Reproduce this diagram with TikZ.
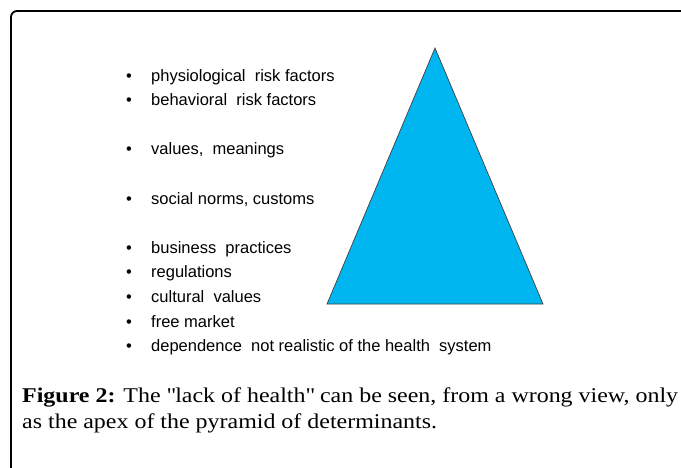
\documentclass[tikz,border=0pt]{standalone}
\usepackage{fontspec}
\setmainfont{Liberation Serif}[FakeStretch=1.14]
\newfontfamily\listfont{Liberation Sans}
\usepackage{tikz}
\usetikzlibrary{positioning,calc}
\definecolor{pyrblue}{RGB}{0,182,240}

\tikzset{
	item/.style={anchor=base west, inner sep=0pt, font=\listfont\fontsize{16.5}{19}\selectfont},
	pyramid/.style={fill=pyrblue, draw=black!75, line width=0.7pt, line join=miter},
	frame/.style={line width=1.8pt, rounded corners=6pt},
}

\begin{document}
\begin{tikzpicture}[x=1pt,y=-1pt]
		\useasboundingbox (0,0) rectangle (681,467);
		% box round the figure
		\draw[frame] (11,470) -- (11,11) -- (690,11);

		% the determinants, top to bottom
		\foreach \k/\txt in {
			0/{physiological\ \ risk factors},
			1/{behavioral\ \ risk factors},
			3/{values,\ \ meanings},
			5/{social norms,\ customs},
			7/{business\ \ practices},
			8/{regulations},
			9/{cultural\ \ values},
			10/{free market},
			11/{dependence\ \ not realistic of the health\ \ system}
		}{
			\node[item] (it\k) at (126,{81+24.6*\k}) {\makebox[25pt][l]{\textbullet}\txt};
		}

		% pyramid
		\coordinate (apex) at (435,48);
		\coordinate (bl) at (327,304);
		\coordinate (br) at (543,304);
		\filldraw[pyramid] (apex) -- (br) -- (bl) -- cycle;

		% caption (base anchor sits on the last line)
		\node[anchor=base west, inner sep=0pt, align=left,
			font=\fontsize{21}{25.5}\selectfont] (cap) at (22,428)
			{\textbf{Figure 2:} The \textquotedbl lack of health\textquotedbl{} can be seen, from a wrong view, only\\
			as the apex of the pyramid of determinants.};
	\end{tikzpicture}
\end{document}
